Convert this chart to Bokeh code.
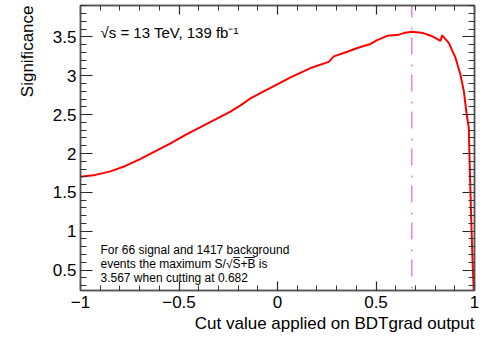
from bokeh.plotting import figure
from bokeh.models import (FixedTicker, LinearAxis, CustomJSTickFormatter, Title,
                          Label, Range1d)
from bokeh.embed import file_html
from bokeh.resources import INLINE
import numpy as np

# ---- data ----
cut_value = [-1.0, -0.924, -0.848, -0.772, -0.695, -0.619, -0.543, -0.467,
             -0.391, -0.315, -0.239, -0.188, -0.137, -0.07, -0.0015, 0.066,
             0.168, 0.26, 0.286, 0.354, 0.413, 0.472, 0.506, 0.557, 0.616,
             0.641, 0.682, 0.74, 0.785, 0.827, 0.836, 0.87, 0.904, 0.929,
             0.946, 0.96, 0.971, 0.976, 0.983, 0.99, 0.996]
significance = [1.70, 1.725, 1.77, 1.84, 1.93, 2.03, 2.13, 2.24,
                2.34, 2.44, 2.54, 2.62, 2.71, 2.80, 2.89, 2.98,
                3.10, 3.18, 3.25, 3.31, 3.365, 3.41, 3.46, 3.515, 3.53,
                3.55, 3.567, 3.55, 3.51, 3.45, 3.52, 3.42, 3.23, 3.01,
                2.80, 2.51, 2.33, 1.82, 1.18, 0.62, 0.24]
best_cut = 0.682
x_ticks = [-1.0, -0.5, 0.0, 0.5, 1.0]
y_ticks = [0.5, 1.0, 1.5, 2.0, 2.5, 3.0, 3.5]
x_minor = [round(v, 2) for v in np.arange(-1.0, 1.001, 0.1)]
y_minor = [round(v, 2) for v in np.arange(0.3, 3.95, 0.1)]

energy_text = "\u221as = 13 TeV, 139 fb\u207b\u00b9"
info_lines = ["For 66 signal and 1417 background",
              "events the maximum S/\u221aS\u0305+\u0305B\u0305 is",
              "3.567 when cutting at 0.682"]

FONT = "Liberation Sans"
Y0, Y1 = 0.237, 3.905

p = figure(width=480, height=339, x_range=Range1d(-1, 1), y_range=Range1d(Y0, Y1),
           output_backend="svg", toolbar_location=None,
           min_border_left=80, min_border_right=6, min_border_top=5,
           min_border_bottom=49)
p.grid.visible = False
p.outline_line_color = "#555555"
p.outline_line_width = 1.5

fmt = CustomJSTickFormatter(code="return (Math.round(tick*10)/10).toString().replace('-', '\\u2212')")
empty = CustomJSTickFormatter(code="return ''")

def style(ax, ticks, minor, tin, tmin, labels=True):
    ax.ticker = FixedTicker(ticks=ticks, minor_ticks=minor)
    ax.axis_line_color = "#555555"
    ax.axis_line_width = 1.5
    ax.major_tick_in = tin
    ax.major_tick_out = 0
    ax.minor_tick_in = tmin
    ax.minor_tick_out = 0
    ax.major_tick_line_color = "#222222"
    ax.minor_tick_line_color = "#333333"
    ax.major_tick_line_width = 1.2
    ax.minor_tick_line_width = 1.0
    if labels:
        ax.formatter = fmt
        ax.major_label_text_font = FONT
        ax.major_label_text_font_size = "17px"
        ax.major_label_text_color = "black"
    else:
        ax.formatter = empty
        ax.major_label_standoff = 0
        ax.major_label_text_font_size = "1px"

style(p.xaxis[0], x_ticks, x_minor, 9, 5)
p.xaxis[0].major_label_standoff = 5
style(p.yaxis[0], y_ticks, y_minor, 12, 6)
p.yaxis[0].major_label_standoff = 4

top = LinearAxis()
style(top, x_ticks, x_minor, 9, 5, labels=False)
p.add_layout(top, "above")
right = LinearAxis()
style(right, y_ticks, y_minor, 12, 6, labels=False)
p.add_layout(right, "right")

p.add_layout(Title(text="Cut value applied on BDTgrad output", align="right",
                   text_font=FONT, text_font_size="17px", text_font_style="normal",
                   text_color="black", standoff=3), "below")
p.add_layout(Title(text="Significance", align="right",
                   text_font=FONT, text_font_size="17px", text_font_style="normal",
                   text_color="black", standoff=25), "left")

p.line(cut_value, significance, line_color="#ff0000", line_width=2)
p.segment(x0=[best_cut], y0=[Y1], x1=[best_cut], y1=[Y0],
          line_color="#dd44dd", line_width=1, line_dash="17 10 2 8",
          line_dash_offset=5)

def px2x(px):
    return -1 + (px - 80) / 197.0

def py2y(py):
    return Y0 + (290 - py) / 77.7

p.add_layout(Label(x=px2x(100), y=py2y(32), text=energy_text, text_font=FONT,
                   text_font_size="15px", text_baseline="alphabetic",
                   text_color="black"))
for i, line in enumerate(info_lines):
    p.add_layout(Label(x=px2x(100), y=py2y(249 + 14 * i), text=line,
                       text_font=FONT, text_font_size="12px",
                       text_baseline="alphabetic", text_color="black"))

open("out.html", "w").write(file_html(p, INLINE))
